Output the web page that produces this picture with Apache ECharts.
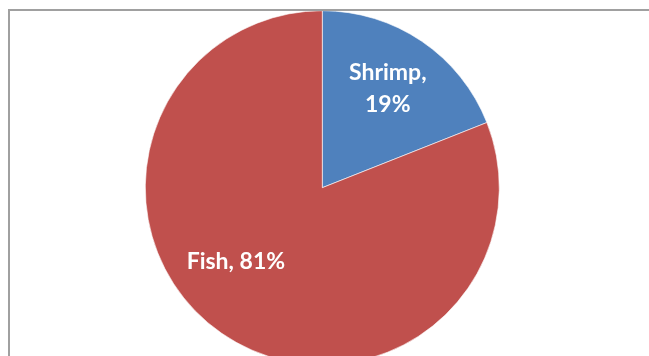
<!DOCTYPE html>
<html>
<head>
<meta charset="utf-8">
<script src="https://cdn.jsdelivr.net/npm/echarts@6/dist/echarts.min.js"></script>
<style>
html,body{margin:0;padding:0;background:#fff;}
#chart{width:649px;height:356px;}
</style>
</head>
<body>
<div id="chart"></div>
<script>
var categories = ['Shrimp', 'Fish'];
var values = [19, 81];
var colors = ['#4F81BD', '#C0504D'];
var labelTexts = ['Shrimp,\n19%', 'Fish, 81%'];

var chart = echarts.init(document.getElementById('chart'), null, {renderer: 'canvas'});
var data = categories.map(function (c, i) {
  return {name: c, value: values[i], itemStyle: {color: colors[i]}};
});
chart.setOption({
  animation: false,
  backgroundColor: '#ffffff',
  graphic: [{
    type: 'rect',
    z: 100,
    shape: {x: 9, y: 10, width: 700, height: 400},
    style: {fill: 'none', stroke: '#a0a0a0', lineWidth: 2}
  }],
  series: [{
    type: 'pie',
    center: [322.3, 187.7],
    radius: 177,
    startAngle: 90,
    clockwise: true,
    itemStyle: {borderColor: '#ffffff', borderWidth: 0.6},
    label: {
      show: true,
      position: 'inside',
      color: '#ffffff',
      fontFamily: 'Lato',
      fontWeight: 'bold',
      fontSize: 23,
      lineHeight: 32,
      align: 'center',
      formatter: function (p) { return labelTexts[p.dataIndex]; }
    },
    labelLayout: function (p) {
      if (p.dataIndex === 0) return {dx: 14, dy: -23};
      return {dx: -35, dy: -2};
    },
    labelLine: {show: false},
    emphasis: {disabled: true},
    data: data
  }]
});
</script>
</body>
</html>
